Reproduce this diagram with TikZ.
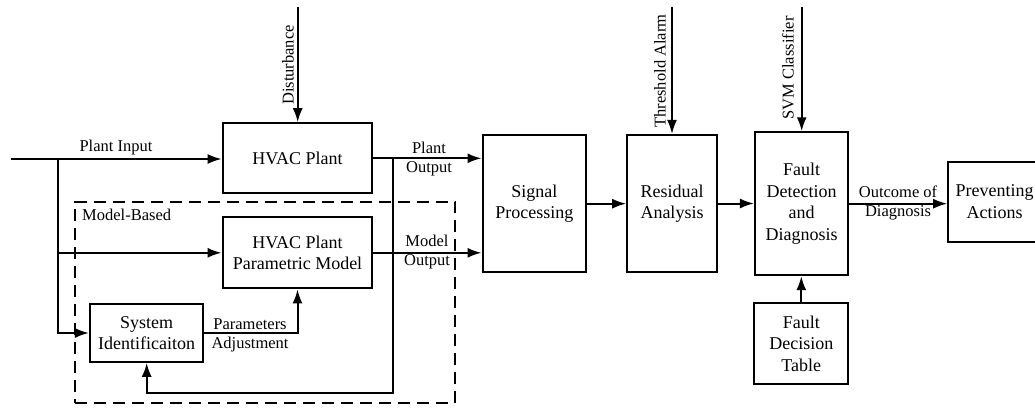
\documentclass[tikz,border=0pt]{standalone}
\usepackage{fontspec}
\setmainfont{Liberation Serif}
\usetikzlibrary{arrows.meta}
\begin{document}
\begin{tikzpicture}[x=1pt,y=-1pt,
  blk/.style={draw, line width=2.2pt, align=center, inner sep=0pt, font=\fontsize{18}{21.5}\selectfont},
  lbl/.style={inner sep=0pt, align=center, font=\fontsize{16.5}{19}\selectfont},
  wire/.style={line width=2pt},
  arr/.style={wire, -{Latex[length=14pt,width=10pt]}},
  grp/.style={draw, line width=1.8pt, dash pattern=on 12pt off 7pt, inner sep=0pt},
]
\useasboundingbox (0,0) rectangle (1035,407);

% blocks
\node[blk, minimum width=149.6pt, minimum height=70pt] (plant) at (297.5,158.3) {HVAC Plant};
\node[blk, minimum width=149.6pt, minimum height=71pt] (model) at (297.5,252.8) {HVAC Plant\\Parametric Model};
\node[blk, minimum width=113.3pt, minimum height=57.4pt] (sysid) at (146.7,333) {System\\Identificaiton};
\node[blk, minimum width=103.3pt, minimum height=137.3pt] (sig) at (534.3,203.7) {Signal\\Processing};
\node[blk, minimum width=89.4pt, minimum height=137pt] (res) at (672,203.5) {Residual\\Analysis};
\node[blk, minimum width=93.3pt, minimum height=142.7pt] (fdd) at (801.7,203.7) {Fault\\Detection\\and\\Diagnosis};
\node[blk, minimum width=94pt, minimum height=81pt] (fdt) at (801.3,343.8) {Fault\\Decision\\Table};
\node[blk, minimum width=92.6pt, minimum height=80pt] (prev) at (994.6,201.7) {Preventing\\Actions};

% dashed group
\node[grp, minimum width=380pt, minimum height=201.6pt] (mb) at (265,302.5) {};

% labels
\node[lbl] (lpi) at (116,148) {Plant Input};
\node[lbl] (lpo) at (429,159) {Plant\\Output};
\node[lbl] (lmo) at (427,252) {Model\\Output};
\node[lbl, anchor=west] (lmb) at (82,215) {Model-Based};
\node[lbl] (lpa) at (250,335) {Parameters\\Adjustment};
\node[lbl] (lod) at (898,203) {Outcome of\\Diagnosis};
\node[lbl, rotate=90] (ldist) at (288,65) {Disturbance};
\node[lbl, rotate=90] (lthr) at (660,71) {Threshold Alarm};
\node[lbl, rotate=90] (lsvm) at (788,68) {SVM Classifier};

% free ends and junctions
\coordinate (in) at (11,159);
\coordinate (b1) at (57.7,159);
\coordinate (dtop) at (297.7,7);
\coordinate (ttop) at (672,7);
\coordinate (stop) at (801.7,7);
\coordinate (b2) at (393.3,159);
\coordinate (fb) at (393.3,392.7);

% connectors
\draw[arr] (in) -- (in -| plant.west);
\draw[arr] (b1) |- (sysid.west);
\draw[arr] (b1 |- model.west) -- (model.west);
\draw[arr] (dtop) -- (dtop |- plant.north);
\draw[arr] (plant.east) -- (plant.east -| sig.west);
\draw[arr] (model.east) -- (model.east -| sig.west);
\draw[arr] (b2) -- (fb) -| (sysid.south);
\draw[arr] (sysid.east) -| (model.south);
\draw[arr] (sig.east) -- (sig.east -| res.west);
\draw[arr] (res.east) -- (res.east -| fdd.west);
\draw[arr] (ttop) -- (ttop |- res.north);
\draw[arr] (stop) -- (stop |- fdd.north);
\draw[arr] (fdt.north) -- (fdt.north |- fdd.south);
\draw[arr] (fdd.east) -- (fdd.east -| prev.west);
\end{tikzpicture}
\end{document}
